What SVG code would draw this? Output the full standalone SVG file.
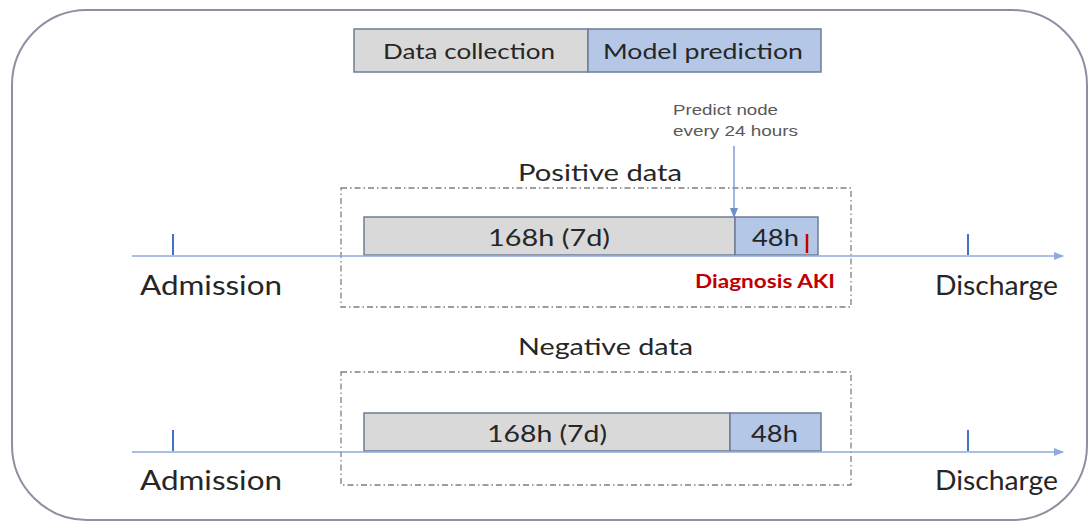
<svg xmlns="http://www.w3.org/2000/svg" width="1089" height="523" viewBox="0 0 1089 523">
<defs>
<style>
.t{font-family:Lato,"Open Sans","Liberation Sans",sans-serif;fill:#262626}
.gray{fill:#d9d9d9;stroke:#6f7c96;stroke-width:1.5}
.blue{fill:#b4c7e7;stroke:#6f7c96;stroke-width:1.5}
.dash{fill:none;stroke:#7f7f7f;stroke-width:1.3;stroke-dasharray:6 3 1.5 3}
.axis{stroke:#8faadc;stroke-width:1.5;fill:none}
.tick{stroke:#4472c4;stroke-width:2}
.sm{font-family:"Liberation Sans",Arial,sans-serif;font-size:15px;fill:#595959}
</style>
<marker id="ah" markerWidth="10" markerHeight="8" refX="9" refY="4" orient="auto" markerUnits="userSpaceOnUse">
<path d="M0,0 L10,4 L0,8 z" fill="#8faadc"/>
</marker>
<marker id="ah2" markerWidth="10" markerHeight="8" refX="9" refY="4" orient="auto" markerUnits="userSpaceOnUse">
<path d="M0,0 L10,4 L0,8 z" fill="#6f8fc9"/>
</marker>
</defs>
<rect id="frame" x="12" y="10" width="1075" height="510" rx="75" ry="75" fill="#ffffff" stroke="#8c90a0" stroke-width="2"/>
<g id="legend">
<rect class="gray" x="354" y="29" width="234" height="43"/>
<rect class="blue" x="588" y="29" width="233" height="43"/>
<text class="t" x="383" y="59" font-size="21" textLength="172" lengthAdjust="spacingAndGlyphs">Data collection</text>
<text class="t" x="603" y="59" font-size="21" textLength="200" lengthAdjust="spacingAndGlyphs" fill="#1f2a44">Model prediction</text>
</g>
<g id="positive">
<text class="t" x="518" y="181" font-size="24" textLength="164" lengthAdjust="spacingAndGlyphs">Positive data</text>
<rect class="dash" x="341" y="188" width="510" height="119"/>
<rect class="gray" x="364" y="217" width="371" height="38"/>
<rect class="blue" x="735" y="217" width="83" height="38"/>
<text class="t" x="488" y="246" font-size="24" textLength="122" lengthAdjust="spacingAndGlyphs">168h (7d)</text>
<text class="t" x="752" y="246" font-size="24" textLength="47" lengthAdjust="spacingAndGlyphs">48h</text>
<line x1="807" y1="234" x2="807" y2="253" stroke="#c00000" stroke-width="2.5"/>
<text x="695" y="288" font-family="Lato,'Open Sans','Liberation Sans',sans-serif" font-weight="bold" font-size="18" fill="#c00000" textLength="140" lengthAdjust="spacingAndGlyphs">Diagnosis AKI</text>
</g>
<g id="predict">
<text class="sm" x="673" y="115" textLength="105" lengthAdjust="spacingAndGlyphs">Predict node</text>
<text class="sm" x="673" y="136" textLength="125" lengthAdjust="spacingAndGlyphs">every 24 hours</text>
</g>
<g id="negative">
<text class="t" x="518" y="355" font-size="24" textLength="175" lengthAdjust="spacingAndGlyphs">Negative data</text>
<rect class="dash" x="341" y="372" width="510" height="113"/>
<rect class="gray" x="364" y="413" width="366" height="38"/>
<rect class="blue" x="730" y="413" width="91" height="38"/>
<text class="t" x="487" y="442" font-size="24" textLength="120" lengthAdjust="spacingAndGlyphs">168h (7d)</text>
<text class="t" x="751" y="442" font-size="24" textLength="47" lengthAdjust="spacingAndGlyphs">48h</text>
</g>
<g id="timeline1">
<line x1="173" y1="234" x2="173" y2="255" class="tick"/>
<line x1="968" y1="234" x2="968" y2="255" class="tick"/>
<text class="t" x="140" y="295" font-size="27" textLength="142" lengthAdjust="spacingAndGlyphs">Admission</text>
<text class="t" x="935" y="295" font-size="27" textLength="123" lengthAdjust="spacingAndGlyphs">Discharge</text>
</g>
<g id="timeline2">
<line x1="173" y1="430" x2="173" y2="451" class="tick"/>
<line x1="968" y1="430" x2="968" y2="451" class="tick"/>
<text class="t" x="140" y="490" font-size="27" textLength="142" lengthAdjust="spacingAndGlyphs">Admission</text>
<text class="t" x="935" y="490" font-size="27" textLength="123" lengthAdjust="spacingAndGlyphs">Discharge</text>
</g>
<g id="connectors">
<line class="axis" x1="132" y1="256" x2="1063" y2="256" marker-end="url(#ah)"/>
<line class="axis" x1="132" y1="452" x2="1063" y2="452" marker-end="url(#ah)"/>
<line x1="734" y1="146" x2="734" y2="217" stroke="#6f8fc9" stroke-width="1.3" marker-end="url(#ah2)"/>
</g>
</svg>
